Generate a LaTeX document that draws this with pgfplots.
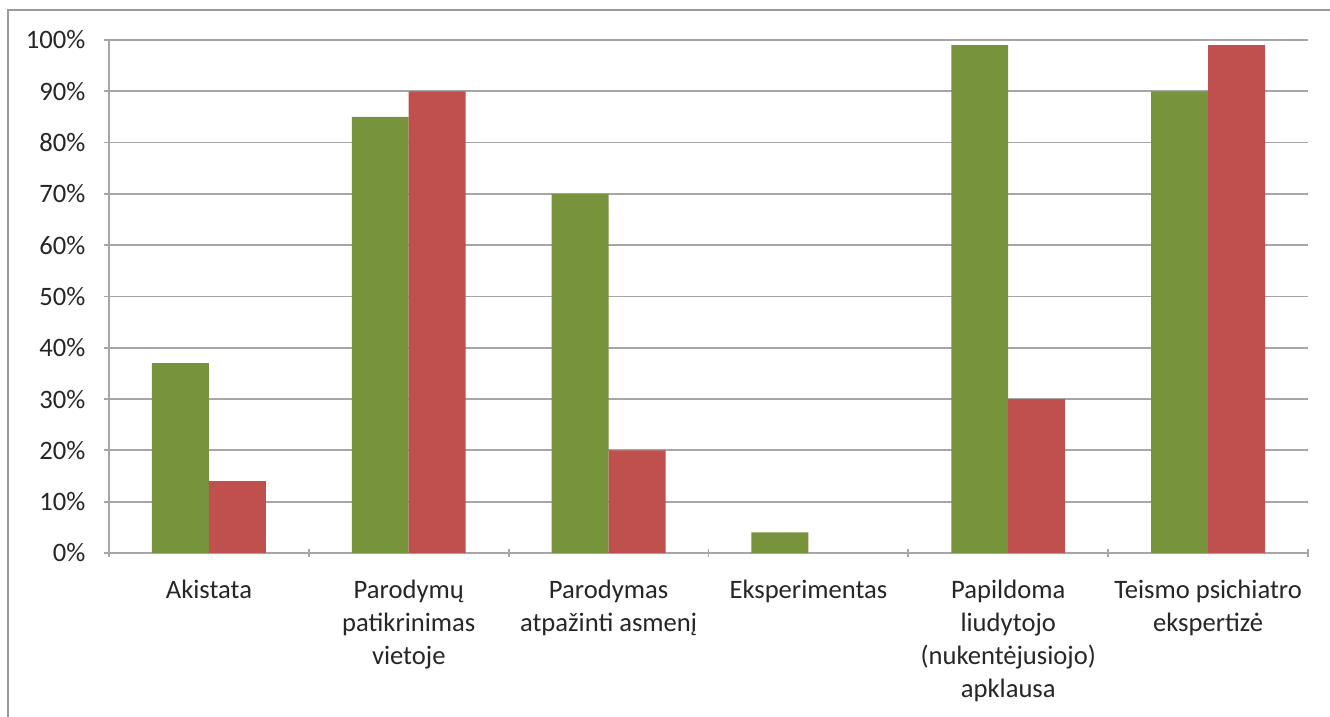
\documentclass[border=0pt]{standalone}
\usepackage{fontspec}
\setmainfont{Carlito}
\usepackage{pgfplots}
\pgfplotsset{compat=1.18}
\definecolor{cgreen}{HTML}{77933C}
\definecolor{cred}{HTML}{C0504D}
\definecolor{cgrid}{HTML}{A6A6A6}
\definecolor{ctext}{HTML}{262626}
\begin{document}
\begin{tikzpicture}
\useasboundingbox (-54.5pt,-82pt) rectangle (610.5pt,276.5pt);
\fill[white] (-54.5pt,-82pt) rectangle (610.5pt,276.5pt);
\draw[color=gray!80, line width=1.2pt] (-50.5pt,-82pt) -- (-50.5pt,271.5pt) -- (610.5pt,271.5pt);
\begin{axis}[
  at={(0,0)}, anchor=south west, scale only axis,
  width=599.5pt, height=256.5pt,
  ybar=0pt, bar width=0.285,
  xmin=-0.5, xmax=5.5, ymin=0, ymax=100,
  xtick={0,...,5},
  xticklabels={Akistata, {Parodymų\\patikrinimas\\vietoje}, {Parodymas\\atpažinti asmenį}, Eksperimentas, {Papildoma\\liudytojo\\(nukentėjusiojo)\\apklausa}, {Teismo psichiatro\\ekspertizė}},
  major x tick style={draw=none},
  minor xtick={-0.5,0.5,...,5.5},
  minor tick length=4pt,
  major tick length=4.5pt,
  tick align=outside,
  tick style={cgrid, line width=0.9pt},
  ytick={0,10,...,100},
  yticklabels={0\%,10\%,20\%,30\%,40\%,50\%,60\%,70\%,80\%,90\%,100\%},
  ymajorgrids,
  grid style={cgrid, line width=0.9pt},
  axis x line=bottom, axis y line=left,
  axis line style={-, cgrid, line width=0.9pt},
  xticklabel style={align=center, font={\fontsize{13.3}{16.5}\selectfont}, text=ctext, anchor=north, yshift=-7.5pt},
  yticklabel style={font={\fontsize{13.3}{15}\selectfont}, text=ctext, xshift=-6pt},
  clip=false,
]
\addplot[fill=cgreen, draw=none] coordinates {(0,37) (1,85) (2,70) (3,4) (4,99) (5,90)};
\addplot[fill=cred, draw=none] coordinates {(0,14) (1,90) (2,20) (4,30) (5,99)};
\end{axis}
\end{tikzpicture}
\end{document}
